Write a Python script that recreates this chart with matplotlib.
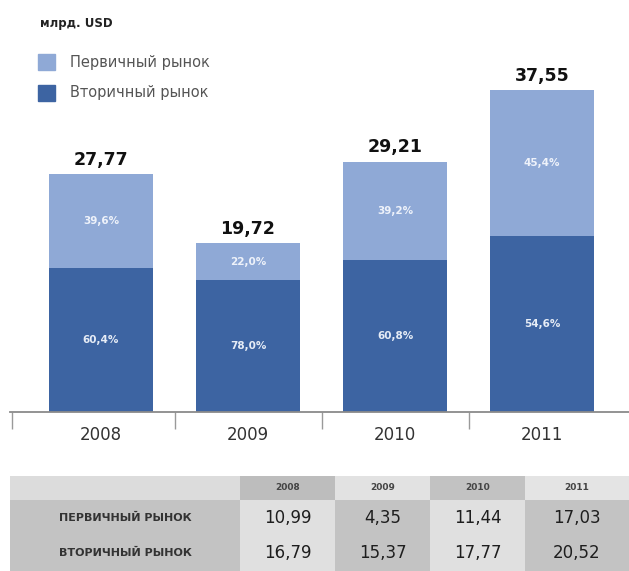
import matplotlib.pyplot as plt
from matplotlib.patches import Rectangle

# data
years = ["2008", "2009", "2010", "2011"]
primary = [10.99, 4.35, 11.44, 17.03]
secondary = [16.79, 15.37, 17.77, 20.52]
totals = [27.77, 19.72, 29.21, 37.55]
primary_pct = ["39,6%", "22,0%", "39,2%", "45,4%"]
secondary_pct = ["60,4%", "78,0%", "60,8%", "54,6%"]
row_names = ["ПЕРВИЧНЫЙ РЫНОК", "ВТОРИЧНЫЙ РЫНОК"]
legend_names = ["Первичный рынок", "Вторичный рынок"]
unit = "млрд. USD"

LIGHT = "#8fa9d6"
DARK = "#3d64a2"
W, H = 629, 571


def fmt(v):
    return f"{v:.2f}".replace(".", ",")


plt.rcParams["font.family"] = ["DejaVu Sans"]
fig = plt.figure(figsize=(W / 100, H / 100), dpi=100)

# ---------------------------------------------------------------------
# bar chart
# ---------------------------------------------------------------------
base_px, top_px = 412, 70
ax = fig.add_axes([0, (H - base_px) / H, 1, (base_px - top_px) / H])
px_per_unit = 322 / 37.55
ax.set_ylim(0, (base_px - top_px) / px_per_unit)
step = 147.0
ax.set_xlim(-101 / step, (W - 101) / step)

x = list(range(len(years)))
bw = 104 / step
ax.bar(x, secondary, width=bw, color=DARK, linewidth=0)
ax.bar(x, primary, width=bw, bottom=secondary, color=LIGHT, linewidth=0)

for i in x:
    ax.text(i, secondary[i] / 2, secondary_pct[i], ha="center", va="center",
            color="#e6ecf6", fontsize=7.5, fontweight="bold")
    ax.text(i, secondary[i] + primary[i] / 2, primary_pct[i], ha="center",
            va="center", color="#eef2fa", fontsize=7.5, fontweight="bold")
    ax.text(i, totals[i] + 0.6, fmt(totals[i]), ha="center", va="bottom",
            fontsize=12.5, fontweight="bold", color="#111111")

for s in ["top", "right", "left"]:
    ax.spines[s].set_visible(False)
ax.spines["bottom"].set_color("#8a8a8a")
ax.spines["bottom"].set_linewidth(1.3)
ax.spines["bottom"].set_bounds((10 - 101) / step, (W - 101) / step)
ax.set_yticks([])
ax.set_xticks(x)
ax.set_xticklabels(years, fontsize=12, color="#333333")
ax.tick_params(axis="x", which="major", length=0, pad=10)
ax.set_xticks([(12 - 101) / step, 0.5, 1.5, 2.5], minor=True)
ax.tick_params(axis="x", which="minor", length=12, width=1.0, color="#9a9a9a",
               direction="out")

# ---------------------------------------------------------------------
# legend
# ---------------------------------------------------------------------
fig.text(40 / W, 1 - 24 / H, unit, fontsize=8.5, fontweight="bold",
         color="#222222", va="center")
for k, (name, col) in enumerate(zip(legend_names, [LIGHT, DARK])):
    yc = 62 + 31 * k
    fig.patches.append(Rectangle((38 / W, 1 - (yc + 8) / H), 17 / W, 16 / H,
                                 transform=fig.transFigure, color=col))
    fig.text(70 / W, 1 - yc / H, name, fontsize=10.5, color="#555555",
             va="center")

# ---------------------------------------------------------------------
# table
# ---------------------------------------------------------------------
tax = fig.add_axes([10 / W, 0, 1 - 10 / W, (H - 476) / H])
tax.axis("off")

light_c, mid_c = "#e0e0e0", "#c3c3c3"
cells = [[""] + years]
colours = [["#dcdcdc", "#bdbdbd", "#e2e2e2", "#c2c2c2", "#e4e4e4"]]
for name, vals in zip(row_names, [primary, secondary]):
    cells.append([name] + [fmt(v) for v in vals])
    colours.append([mid_c, light_c, mid_c, light_c, mid_c])

col_w = [230, 95, 95, 95, 104]
tbl = tax.table(cellText=cells, cellColours=colours, cellLoc="center",
                colWidths=[c / sum(col_w) for c in col_w], bbox=[0, 0, 1, 1])
tbl.auto_set_font_size(False)
for (r, c), cell in tbl.get_celld().items():
    cell.set_linewidth(0)
    cell.set_height(24 if r == 0 else 35.5)
    t = cell.get_text()
    if r == 0:
        t.set_fontsize(6.5)
        t.set_fontweight("bold")
        t.set_color("#444444")
    elif c == 0:
        t.set_fontsize(8)
        t.set_fontweight("bold")
        t.set_color("#333333")
    else:
        t.set_fontsize(12)
        t.set_color("#1e1e1e")

fig.savefig("out.png", dpi=100)
